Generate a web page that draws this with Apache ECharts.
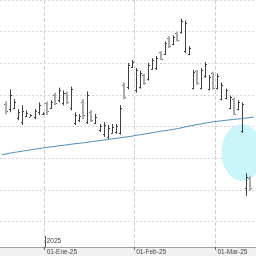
<!DOCTYPE html>
<html><head><meta charset="utf-8">
<script src="https://cdn.jsdelivr.net/npm/echarts@6/dist/echarts.min.js"></script>
<style>html,body{margin:0;padding:0;background:#fff}#c{width:256px;height:256px}</style>
</head><body><div id="c"></div>
<script>
// Trading days (first and last have no bar: they fall outside the cropped view)
const dates = [
 '2024-12-16','2024-12-17','2024-12-18','2024-12-19','2024-12-20','2024-12-23','2024-12-24','2024-12-26','2024-12-27','2024-12-30','2024-12-31',
 '2025-01-02','2025-01-03','2025-01-06','2025-01-07','2025-01-08','2025-01-09','2025-01-10','2025-01-13','2025-01-14','2025-01-15',
 '2025-01-16','2025-01-17','2025-01-20','2025-01-21','2025-01-22','2025-01-23','2025-01-24','2025-01-27','2025-01-28','2025-01-29',
 '2025-01-30','2025-01-31',
 '2025-02-03','2025-02-04','2025-02-05','2025-02-06','2025-02-07','2025-02-10','2025-02-11','2025-02-12','2025-02-13','2025-02-14',
 '2025-02-17','2025-02-18','2025-02-19','2025-02-20','2025-02-21','2025-02-24','2025-02-25','2025-02-26','2025-02-27','2025-02-28',
 '2025-03-03','2025-03-04','2025-03-05','2025-03-06','2025-03-07','2025-03-10','2025-03-11','2025-03-12','2025-03-13','2025-03-14'
];
// OHLC values for 2024-12-17 .. 2025-03-13
const opens = [137.0,135.5,136.0,132.8,131.5,133.3,133.1,133.0,134.5,133.8, 137.5,136.0,140.0,138.5,137.5,140.5,136.0,131.0,132.0,137.8,
 131.5,134.5,131.2,128.8,127.5,126.8,128.0,128.3,128.0,143.2, 142.5,148.9,141.5,142.5,146.2,145.0,148.3,148.5,153.4,153.0,
 158.0,156.0,159.6,160.0,154.0,153.0,142.2,147.4,142.3,146.0, 142.0,146.8,142.2,138.8,139.0,136.0,138.7,135.6,128.5,110.5, 113.8];
const highs = [137.9,141.7,138.6,135.5,136.7,135.1,133.9,135.5,137.6,134.5, 137.9,138.3,140.7,142.3,141.4,141.1,142.6,134.5,133.9,138.6,
 141.1,135.1,133.9,130.8,131.4,130.5,130.8,130.8,136.7,143.9, 150.1,151.0,148.5,147.6,146.7,150.1,151.6,152.3,153.8,156.9,
 158.5,158.8,160.0,164.1,163.5,155.4,147.9,147.9,148.5,150.4, 146.3,147.3,146.7,143.9,142.0,139.8,139.2,138.3,137.6,115.2, 114.3];
const lows = [133.9,134.5,135.5,132.0,130.5,133.0,133.0,132.3,133.6,133.6, 133.6,135.5,136.7,137.6,136.7,137.0,135.1,130.5,131.4,132.3,
 130.8,131.4,130.8,128.3,126.7,126.1,127.7,127.7,127.4,138.6, 141.7,148.5,140.7,142.0,143.2,144.5,147.9,147.9,151.0,152.6,
 154.8,155.7,156.9,159.4,153.2,152.6,141.7,143.2,141.7,145.4, 141.4,141.7,141.7,138.3,138.6,135.5,133.6,135.1,128.0,108.1, 109.6];
const closes = [134.8,140.0,137.9,134.6,135.0,134.4,133.6,134.8,136.8,134.2, 135.0,137.6,137.5,141.5,140.5,137.8,141.8,133.5,133.2,133.5,
 140.0,132.0,133.0,130.2,130.5,129.5,130.0,130.2,136.0,139.2, 149.5,150.5,147.8,146.8,143.8,149.5,151.0,151.8,151.5,156.3,
 155.3,158.3,157.4,163.5,162.8,154.8,147.2,143.8,147.8,149.8, 145.6,142.2,146.0,143.2,141.4,139.2,134.1,137.7,137.0,114.0, 110.5];
// moving average for every date (2024-12-16 .. 2025-03-14)
const movingAvg = [121.1,121.3,121.6,121.8,122.0,122.2,122.4,122.6,122.8,123.0,123.2, 123.4,123.55,123.7,123.9,124.05,124.2,124.4,124.55,124.7,124.85,
 125.0,125.2,125.35,125.55,125.7,125.9,126.05,126.25,126.4,126.6, 126.75,126.95,127.2,127.4,127.6,127.8,128.05,128.25,128.5,128.65,
 128.85,129.05,129.3,129.55,129.85,130.1,130.35,130.6,130.8,131.05, 131.3,131.5,131.65,131.8,131.95,132.1,132.25,132.35,132.5,132.65,
 132.8,132.95];
const monthTickLabels = ['01-Ene-25','01-Feb-25','01-Mar-25'];
const yearTickLabel = '2025';
// highlighted gap: [center date index, center price, half-width in bars, half-height in price]
const gapHighlight = [[59.4, 121.75, 4.3, 9.0]];

const monthStart = dates.map((d, i) => i > 0 && d.slice(5, 7) !== dates[i - 1].slice(5, 7));
const yearStart = dates.map((d, i) => i > 0 && d.slice(0, 4) !== dates[i - 1].slice(0, 4));
const labelByIdx = {};
let k = 0;
monthStart.forEach((m, i) => { if (m) labelByIdx[i] = monthTickLabels[k++]; });

// bar i belongs to dates[i + 1]
const bars = opens.map((o, i) => [i + 1, o, closes[i], lows[i], highs[i]]);

function renderBar(params, api) {
  const i = api.value(0);
  const o = api.value(1), c = api.value(2), l = api.value(3), h = api.value(4);
  const pH = api.coord([i, h]), pL = api.coord([i, l]);
  const pO = api.coord([i, o]), pC = api.coord([i, c]);
  const up = c >= o;
  const col = up ? '#3f3f3f' : '#ababab';
  const tickCol = up ? '#3f3f3f' : '#6a6a6a';
  const lw = up ? 1 : 2;
  const x = up ? Math.round(pH[0]) + 0.5 : Math.round(pH[0]);
  const half = up ? 0.5 : 1;
  const yo = Math.round(pO[1]) + 0.5, yc = Math.round(pC[1]) + 0.5;
  return { type: 'group', children: [
    { type: 'line', shape: { x1: x, y1: pH[1], x2: x, y2: pL[1] }, style: { stroke: col, lineWidth: lw } },
    { type: 'line', shape: { x1: x - half - 1, y1: yo, x2: x - half, y2: yo }, style: { stroke: tickCol, lineWidth: 1 } },
    { type: 'line', shape: { x1: x + half, y1: yc, x2: x + half + 1, y2: yc }, style: { stroke: tickCol, lineWidth: 1 } }
  ]};
}
function renderEllipse(params, api) {
  const cx = api.value(0), cy = api.value(1);
  const c = api.coord([cx, cy]);
  const e = api.coord([cx + api.value(2), cy + api.value(3)]);
  return { type: 'ellipse', shape: { cx: c[0], cy: c[1], rx: Math.abs(e[0] - c[0]), ry: Math.abs(c[1] - e[1]) },
    style: { fill: '#c9f5fb' } };
}

const chart = echarts.init(document.getElementById('c'), null, { renderer: 'canvas' });
const bandRect = { type: 'rect', z: 5, shape: { x: 0, y: 247, width: 256, height: 9 }, style: { fill: '#f0f0f0' } };
chart.setOption({
  animation: false,
  backgroundColor: '#ffffff',
  grid: { left: -5.2, right: -3.2, top: -4, bottom: 3 },
  xAxis: [
    { type: 'category', data: dates, boundaryGap: true,
      axisLine: { show: false }, axisTick: { show: false }, axisLabel: { show: false },
      splitLine: { show: true, interval: (i) => monthStart[i], lineStyle: { color: '#d0d0d0', type: [4, 2], width: 1 } } },
    { type: 'category', data: dates, boundaryGap: true, position: 'bottom', offset: -6, z: 10,
      axisLine: { show: true, lineStyle: { color: '#a0a0a0', width: 1 } },
      axisTick: { show: true, interval: (i) => monthStart[i], length: 3, lineStyle: { color: '#666' } },
      axisLabel: { show: true, interval: (i) => monthStart[i], formatter: (v, i) => labelByIdx[i] || '',
        align: 'left', margin: 2, fontSize: 6.5, color: '#444', fontFamily: 'Liberation Sans' },
      splitLine: { show: false } },
    { type: 'category', data: dates, boundaryGap: true, position: 'bottom', offset: -6, z: 10,
      axisLine: { show: false }, axisTick: { show: false },
      axisLabel: { show: true, inside: true, interval: (i) => yearStart[i], formatter: (v, i) => yearStart[i] ? yearTickLabel : '',
        align: 'left', margin: 2, fontSize: 6.5, color: '#444', fontFamily: 'Liberation Sans' },
      splitLine: { show: false } }
  ],
  yAxis: { type: 'value', min: 90, max: 170, interval: 10,
    axisLine: { show: false }, axisTick: { show: false }, axisLabel: { show: false },
    splitLine: { show: true, lineStyle: { color: '#d4d4d4', type: [2, 2], width: 1 } } },
  graphic: [bandRect],
  series: [
    { type: 'custom', name: 'gap', renderItem: renderEllipse, data: gapHighlight, z: 1, silent: true,
      encode: { x: 0, y: 1 } },
    { type: 'custom', name: 'OHLC', renderItem: renderBar, data: bars, z: 3,
      encode: { x: 0, y: [1, 2, 3, 4] } },
    { type: 'line', name: 'MA', data: movingAvg, symbol: 'none', z: 4,
      lineStyle: { color: '#4f8cb0', width: 1 } }
  ]
});
// long year-boundary tick, placed at the boundary before the first trading day of the year
const yi = yearStart.indexOf(true);
const xa = chart.convertToPixel({ xAxisIndex: 0 }, dates[yi]);
const xb = chart.convertToPixel({ xAxisIndex: 0 }, dates[yi + 1]);
const xTick = Math.round(xa - (xb - xa) / 2) + 0.5;
chart.setOption({ graphic: [bandRect, { type: 'line', z: 12,
  shape: { x1: xTick, y1: 236, x2: xTick, y2: 247 }, style: { stroke: '#555', lineWidth: 1 } }] });
</script></body></html>
